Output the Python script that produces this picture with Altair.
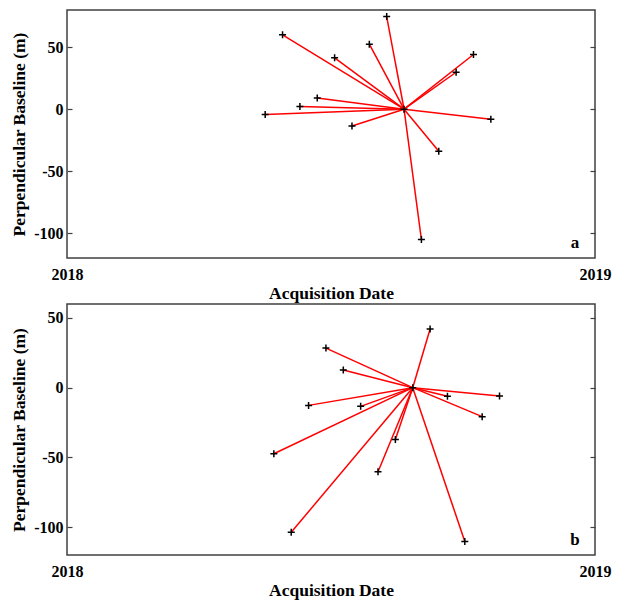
import altair as alt
import pandas as pd

# Panel a (master 2018-08-22)
a_dates = ["2018-05-18", "2018-05-30", "2018-06-11", "2018-06-23", "2018-07-05",
           "2018-07-17", "2018-07-29", "2018-08-10", "2018-08-22", "2018-09-03",
           "2018-09-15", "2018-09-27", "2018-10-09", "2018-10-21"]
a_bperp = [-4.3, 60.0, 2.1, 9.1, 41.4, -13.5, 52.4, 74.7, 0.0, -105.1,
           -33.9, 29.8, 44.1, -8.1]
a_master = "2018-08-22"

# Panel b (master 2018-08-28)
b_dates = ["2018-05-24", "2018-06-05", "2018-06-17", "2018-06-29", "2018-07-11",
           "2018-07-23", "2018-08-04", "2018-08-16", "2018-08-28", "2018-09-09",
           "2018-09-21", "2018-10-03", "2018-10-15", "2018-10-27"]
b_bperp = [-47.4, -103.7, -12.7, 28.4, 12.6, -13.4, -60.3, -37.1, 0.0, 42.1,
           -6.2, -110.3, -20.8, -6.0]
b_master = "2018-08-28"

y_ticks = [-100, -50, 0, 50]
FONT = "Liberation Serif"

d0 = alt.DateTime(year=2018, month=1, date=1, utc=True)
d1 = alt.DateTime(year=2019, month=1, date=1, utc=True)


def panel(dates, bperp, master, letter, ymin, ymax, height):
    df = pd.DataFrame({"date": dates, "bperp": bperp,
                       "mdate": [master] * len(dates), "mb": [0.0] * len(dates)})
    base = alt.Chart(df)
    xscale = alt.Scale(type="utc", domain=[d0, d1])
    yscale = alt.Scale(domain=[ymin, ymax], nice=False, zero=False)
    x_axis = alt.Axis(values=[d0, d1], labelExpr="utcFormat(datum.value, '%Y')",
                      title="Acquisition Date", ticks=False, domain=False, grid=False,
                      labelPadding=8, labelFlush=False, titlePadding=2)
    y_axis = alt.Axis(values=y_ticks, title="Perpendicular Baseline (m)", offset=-5,
                      tickSize=5, domain=False, grid=False, labelPadding=4,
                      titlePadding=5, labelExpr="'' + datum.value")
    y_axis_r = alt.Axis(values=y_ticks, orient="right", labels=False, title=None,
                        offset=-5, tickSize=5, domain=False, grid=False)

    rules = base.mark_rule(color="#ff0000", strokeWidth=1.5).encode(
        x=alt.X("date:T", scale=xscale, axis=x_axis),
        y=alt.Y("bperp:Q", scale=yscale, axis=y_axis),
        x2="mdate:T", y2="mb:Q")
    pts = base.mark_point(shape="M-1,0L1,0M0,-1L0,1", size=49, color="black",
                          strokeWidth=1.5, filled=False, opacity=1).encode(
        x=alt.X("date:T", scale=xscale, axis=x_axis),
        y=alt.Y("bperp:Q", scale=yscale, axis=y_axis_r))
    lab = alt.Chart(pd.DataFrame({"t": [letter]})).mark_text(
        font=FONT, fontSize=17, fontWeight="bold", color="black",
        align="center", baseline="middle").encode(
        x=alt.value(508), y=alt.value(height - 15), text="t:N")
    return alt.layer(rules, pts, lab).resolve_axis(y="independent").properties(
        width=528, height=height)


pa = panel(a_dates, a_bperp, a_master, "a", -120, 80, 248)
pb = panel(b_dates, b_bperp, b_master, "b", -120, 60, 251)

chart = alt.vconcat(pa, pb, spacing=0).properties(
    padding={"left": 9, "top": 9, "right": 0, "bottom": 0}
).configure(font=FONT).configure_view(
    stroke="#404040", strokeWidth=1.5
).configure_axis(
    labelFont=FONT, labelFontSize=16, labelFontWeight="bold", labelColor="black",
    titleFont=FONT, titleFontSize=17.5, titleFontWeight="bold", titleColor="black",
    tickColor="#404040", tickWidth=1.2
)

chart.save("out.html", embed_options={"renderer": "svg", "actions": False})
